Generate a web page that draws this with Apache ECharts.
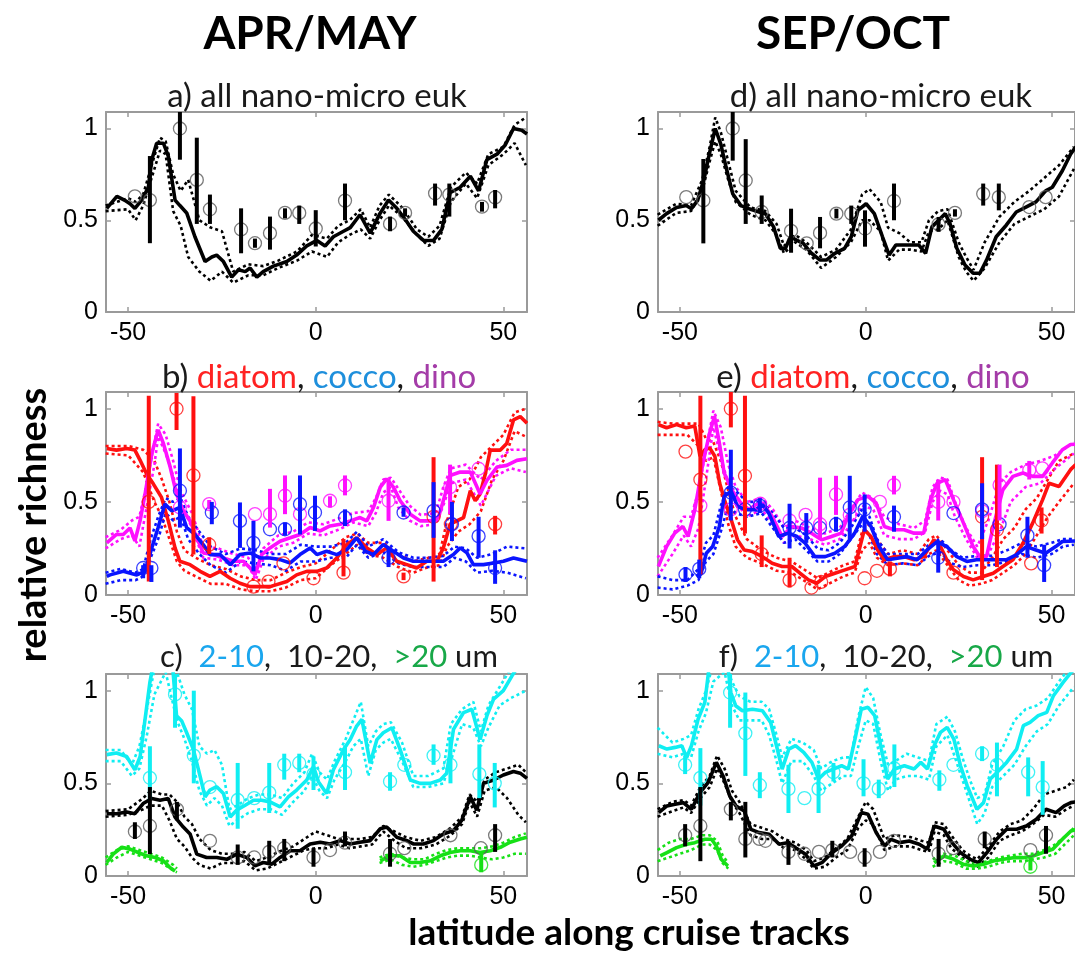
<!DOCTYPE html>
<html><head><meta charset="utf-8">
<script src="https://cdn.jsdelivr.net/npm/echarts@6/dist/echarts.min.js"></script>
<style>html,body{margin:0;padding:0;background:#fff}#c{width:1075px;height:957px}</style>
</head><body><div id="c"></div>
<script>
// ---------- axis ticks ----------
const xTicks = [-50, 0, 50];
const yTicks = [0, 0.5, 1];

// ---------- panel a (APR/MAY, all nano-micro euk) ----------
const aMid = [[-55.7,0.565],[-53,0.63],[-51,0.61],[-49.5,0.59],[-48.2,0.565],[-46.4,0.61],[-44.6,0.68],[-43.7,0.83],[-42.4,0.92],[-40.6,0.92],[-39.3,0.85],[-37.5,0.61],[-36.2,0.58],[-34.4,0.54],[-32.2,0.41],[-29.5,0.275],[-27.7,0.30],[-26.4,0.31],[-24.6,0.275],[-22.4,0.19],[-20.6,0.23],[-18.8,0.22],[-17.5,0.24],[-15.7,0.19],[-14,0.22],[-11.3,0.25],[-7.7,0.275],[-5.1,0.31],[-2.4,0.36],[0.3,0.39],[2.5,0.36],[4.7,0.41],[7.4,0.44],[9.2,0.46],[11.8,0.53],[14.5,0.43],[17.2,0.54],[19.4,0.61],[21.6,0.565],[24,0.50],[26,0.44],[28.7,0.39],[31.4,0.39],[33.6,0.45],[35.8,0.65],[38.5,0.68],[41.2,0.74],[43.4,0.66],[45.6,0.83],[48.3,0.86],[50.5,0.91],[52.7,1.0],[54.9,0.99],[56.3,0.97]];
const aEnv = [[-56,0.58,0.55],[-50,0.62,0.56],[-48,0.60,0.50],[-46,0.64,0.58],[-43,0.85,0.78],[-41.5,0.95,0.88],[-40,0.93,0.86],[-38,0.75,0.55],[-36,0.66,0.47],[-34,0.72,0.30],[-31,0.50,0.22],[-28,0.46,0.17],[-25,0.44,0.22],[-22,0.22,0.16],[-18,0.26,0.20],[-14,0.25,0.20],[-10,0.28,0.24],[-5,0.33,0.28],[-1,0.42,0.33],[3,0.40,0.30],[6,0.47,0.38],[9,0.50,0.42],[12,0.56,0.45],[14.5,0.46,0.40],[17,0.58,0.50],[19.5,0.64,0.58],[23,0.57,0.52],[27,0.45,0.42],[30,0.41,0.36],[33,0.47,0.40],[36,0.68,0.60],[40,0.76,0.70],[43,0.70,0.62],[46,0.86,0.80],[50,0.90,0.86],[53,1.02,0.92],[56,1.06,0.80]];
const aPts = [[-48.2,0.63,null,null],[-44.2,0.61,0.375,0.85],[-36.2,1.0,0.83,1.09],[-31.7,0.72,0.48,0.95],[-28.2,0.56,0.48,0.64],[-19.9,0.45,0.32,0.565],[-16.2,0.375,0.35,0.40],[-12.2,0.43,0.34,0.52],[-8.2,0.54,0.51,0.565],[-4.4,0.54,0.48,0.58],[0,0.455,0.357,0.555],[7.8,0.607,0.50,0.70],[19.8,0.48,0.44,0.52],[23.8,0.54,0.52,0.565],[31.8,0.647,0.58,0.70],[35.6,0.64,0.52,0.70],[44.3,0.574,0.547,0.60],[47.8,0.625,0.565,0.665]];

// ---------- panel d (SEP/OCT, all nano-micro euk) ----------
const dMid = [[-55.8,0.50],[-53.6,0.536],[-50.9,0.57],[-48.3,0.58],[-46.9,0.563],[-45.2,0.61],[-43.4,0.735],[-42.1,0.86],[-40.5,1.0],[-39,0.915],[-37.6,0.79],[-35.8,0.645],[-33.6,0.58],[-31.4,0.563],[-28.7,0.545],[-27,0.536],[-24.8,0.464],[-23,0.347],[-21.6,0.347],[-20.3,0.41],[-18.5,0.39],[-16.8,0.374],[-14.6,0.32],[-12.3,0.283],[-10.6,0.283],[-8.3,0.32],[-5.7,0.347],[-3.9,0.41],[-2.1,0.554],[0.1,0.59],[2.3,0.536],[4.5,0.41],[6.3,0.31],[8.1,0.365],[11.2,0.365],[14.3,0.365],[16.1,0.32],[17.8,0.464],[19.6,0.50],[21.4,0.536],[22.7,0.48],[24.5,0.347],[26.7,0.256],[28.9,0.211],[30.7,0.211],[32.5,0.283],[35.1,0.41],[37.8,0.473],[40.5,0.545],[43.1,0.572],[45.8,0.60],[48.4,0.66],[50.2,0.68],[52.9,0.77],[55.1,0.86],[56.5,0.9]];
const dEnv = [[-56,0.53,0.47],[-51,0.59,0.54],[-47,0.58,0.55],[-44,0.72,0.66],[-42,0.9,0.82],[-40.5,1.06,0.93],[-39,0.98,0.86],[-37,0.82,0.72],[-35,0.66,0.6],[-31,0.57,0.53],[-27,0.55,0.5],[-24,0.48,0.42],[-22,0.36,0.32],[-19,0.42,0.38],[-16,0.38,0.34],[-12,0.3,0.24],[-8,0.34,0.3],[-4,0.45,0.38],[-1,0.64,0.5],[1,0.67,0.5],[4,0.6,0.44],[6,0.46,0.28],[9,0.43,0.34],[12,0.38,0.34],[15,0.38,0.33],[17,0.5,0.44],[19.5,0.55,0.45],[22,0.56,0.5],[25,0.38,0.3],[27,0.3,0.22],[29,0.23,0.17],[32,0.38,0.24],[36,0.52,0.38],[40,0.6,0.48],[44,0.66,0.52],[48,0.73,0.56],[52,0.8,0.63],[56,0.9,0.78]];
const dPts = [[-48.3,0.626,null,null],[-43.7,0.608,0.374,0.834],[-35.8,1.0,0.825,1.09],[-32.3,0.717,0.48,0.942],[-28,0.545,0.48,0.635],[-20.1,0.442,0.323,0.563],[-15.9,0.374,null,null],[-12.3,0.431,0.347,0.518],[-7.9,0.536,0.51,0.563],[-3.9,0.536,0.48,0.58],[-0.2,0.455,0.356,0.554],[7.6,0.605,0.50,0.70],[19.6,0.478,0.437,0.518],[24,0.54,0.52,0.56],[31.6,0.644,0.58,0.70],[35.8,0.626,0.554,0.70],[44,0.572,null,null],[48.4,0.626,null,null]];

// ---------- panel b (APR/MAY diatom, cocco, dino) ----------
const bRed = [[-55.7,0.787],[-53.1,0.778],[-50.4,0.787],[-48.2,0.778],[-46.8,0.723],[-45.1,0.651],[-43.3,0.597],[-41.1,0.524],[-39.3,0.398],[-37.5,0.253],[-36.2,0.181],[-33.5,0.163],[-30.8,0.127],[-28.2,0.10],[-25.5,0.127],[-22.8,0.09],[-20.2,0.063],[-17.5,0.045],[-14.8,0.045],[-12.2,0.045],[-7.7,0.072],[-5.1,0.108],[-2.4,0.127],[0.3,0.127],[2.9,0.145],[5.6,0.199],[8.3,0.271],[10.9,0.307],[13.6,0.253],[16.3,0.217],[18.9,0.253],[21.6,0.181],[24.3,0.163],[26.9,0.145],[29.6,0.181],[32.3,0.181],[34,0.253],[35.8,0.38],[37.6,0.398],[39.4,0.416],[41.2,0.56],[42.5,0.506],[43.8,0.542],[45.2,0.651],[46.5,0.778],[49.2,0.778],[50.9,0.814],[52.7,0.94],[54.5,0.958],[56.3,0.922]];
const bRedEnv = [[-56,0.80,0.76],[-50,0.80,0.75],[-46,0.78,0.66],[-43,0.72,0.5],[-41,0.62,0.42],[-39,0.5,0.3],[-37,0.34,0.18],[-35,0.24,0.13],[-32,0.2,0.1],[-28,0.16,0.06],[-24,0.14,0.06],[-20,0.1,0.03],[-16,0.08,0.02],[-12,0.08,0.02],[-8,0.12,0.04],[-4,0.15,0.08],[0,0.17,0.09],[4,0.24,0.16],[8,0.31,0.22],[11,0.33,0.27],[14,0.28,0.22],[18,0.28,0.2],[22,0.22,0.15],[26,0.18,0.12],[30,0.2,0.15],[33,0.22,0.16],[35,0.4,0.26],[38,0.58,0.34],[41,0.62,0.38],[44,0.74,0.45],[47,0.8,0.62],[50,0.86,0.72],[53,0.98,0.88],[56,1.0,0.85]];
const bRedPts = [[-44.5,0.5,0.072,1.07],[-37.1,1.0,0.886,1.085],[-32.6,0.642,0.217,1.067],[-28.4,0.27,0.22,0.31],[-16.6,0.045,null,null],[-12.6,0.072,null,null],[-8.6,0.17,null,null],[-0.6,0.09,null,null],[7.4,0.12,0.1,0.3],[23.4,0.1,0.08,0.12],[31.4,0.42,0.072,0.74],[36,0.38,null,null],[47.8,0.38,0.325,0.425]];
const bMag = [[-55.7,0.28],[-53.1,0.325],[-51.3,0.325],[-49.5,0.36],[-48.2,0.29],[-46.8,0.40],[-45.5,0.54],[-43.7,0.76],[-42,0.886],[-40.6,0.814],[-38.8,0.687],[-37.1,0.542],[-35.3,0.452],[-33.5,0.398],[-31.7,0.307],[-30,0.226],[-27.3,0.217],[-24.6,0.199],[-22,0.181],[-19.3,0.181],[-17.5,0.145],[-16.2,0.108],[-14.4,0.217],[-12.2,0.253],[-9.5,0.289],[-6.8,0.307],[-4.2,0.325],[-1.5,0.362],[1.2,0.344],[3.8,0.371],[6.5,0.38],[9.2,0.398],[11.8,0.416],[13.6,0.398],[15.4,0.47],[17.2,0.579],[18.9,0.624],[20.7,0.579],[22.5,0.506],[25.2,0.434],[27.8,0.398],[30.5,0.398],[32.7,0.416],[34.5,0.542],[35.8,0.642],[38.5,0.66],[41.2,0.66],[43.8,0.542],[45.6,0.615],[48.3,0.687],[50.9,0.696],[53.6,0.723],[56.3,0.732]];
const bMagEnv = [[-56,0.31,0.25],[-52,0.35,0.3],[-49,0.4,0.32],[-47,0.42,0.26],[-45,0.6,0.48],[-43,0.82,0.7],[-42,0.92,0.85],[-40,0.86,0.76],[-38,0.72,0.64],[-36,0.56,0.5],[-33,0.44,0.36],[-30,0.26,0.2],[-26,0.25,0.19],[-22,0.22,0.16],[-18,0.2,0.16],[-16,0.14,0.08],[-14,0.25,0.19],[-10,0.32,0.26],[-6,0.34,0.28],[-2,0.39,0.33],[2,0.38,0.32],[6,0.41,0.35],[10,0.44,0.39],[14,0.45,0.37],[16,0.52,0.44],[18,0.62,0.55],[20,0.63,0.58],[22,0.57,0.47],[25,0.48,0.4],[28,0.43,0.37],[32,0.44,0.38],[34,0.58,0.48],[36,0.68,0.6],[40,0.7,0.62],[44,0.62,0.48],[48,0.72,0.64],[52,0.78,0.68],[56,0.78,0.66]];
const bMagPts = [[-36.2,0.47,null,null],[-28.4,0.488,0.46,0.51],[-16.2,0.434,null,null],[-12.2,0.434,0.362,0.57],[-8.2,0.533,0.434,0.642],[-4.2,0.434,null,null],[3.8,0.506,0.47,0.53],[7.8,0.588,0.535,0.642],[19.4,0.506,0.398,0.624],[35.8,0.579,0.434,0.70],[43.4,0.678,null,null]];
const bBlue = [[-55.7,0.1],[-54.8,0.108],[-51.3,0.127],[-47.7,0.108],[-45.5,0.127],[-43.7,0.253],[-42,0.362],[-40.2,0.488],[-38.4,0.452],[-36.2,0.47],[-34.4,0.362],[-32.2,0.325],[-30,0.271],[-28.2,0.217],[-25.5,0.217],[-22.8,0.163],[-20.2,0.217],[-17.5,0.226],[-14.8,0.199],[-12.2,0.199],[-9.5,0.19],[-6.8,0.172],[-4.2,0.217],[-1.5,0.253],[0.3,0.217],[2.9,0.235],[5.6,0.217],[8.3,0.244],[10.9,0.307],[13.2,0.235],[15.4,0.217],[18,0.271],[20.7,0.235],[23.4,0.199],[26,0.181],[28.7,0.181],[31.4,0.181],[34,0.181],[36.7,0.217],[38.5,0.253],[40.3,0.226],[42,0.163],[44.7,0.163],[47.4,0.172],[50,0.181],[52.7,0.199],[56.3,0.181]];
const bBlueEnv = [[-56,0.12,0.06],[-52,0.14,0.08],[-48,0.12,0.08],[-46,0.14,0.1],[-44,0.3,0.2],[-42,0.42,0.3],[-40,0.52,0.44],[-38,0.5,0.4],[-36,0.52,0.42],[-34,0.42,0.3],[-31,0.34,0.22],[-28,0.26,0.16],[-24,0.22,0.12],[-20,0.25,0.18],[-16,0.24,0.17],[-12,0.22,0.16],[-8,0.22,0.13],[-4,0.27,0.18],[0,0.26,0.18],[4,0.26,0.2],[8,0.28,0.2],[11,0.34,0.27],[14,0.26,0.2],[18,0.3,0.23],[22,0.23,0.17],[26,0.2,0.15],[30,0.2,0.15],[34,0.21,0.15],[37,0.26,0.2],[40,0.25,0.18],[43,0.2,0.12],[47,0.22,0.13],[51,0.26,0.12],[56,0.25,0.09]];
const bBluePts = [[-46,0.145,0.09,0.16],[-43.8,0.145,0.07,0.16],[-36.2,0.56,0.362,0.787],[-27.7,0.443,0.38,0.5],[-20.2,0.398,0.253,0.497],[-16.6,0.28,0.127,0.398],[-12.2,0.353,null,null],[-8.2,0.353,0.32,0.39],[-4.2,0.488,0.325,0.642],[-0.2,0.443,0.344,0.533],[7.8,0.416,0.37,0.46],[19.4,0.2,0.15,0.25],[23.4,0.443,0.42,0.47],[31.4,0.452,0.307,0.606],[36.3,0.38,0.29,0.5],[43.4,0.316,0.2,0.42],[47.8,0.145,0.06,0.24]];

// ---------- panel e (SEP/OCT diatom, cocco, dino) ----------
const eRed = [[-55.8,0.915],[-53.6,0.898],[-50.9,0.915],[-48.3,0.898],[-46,0.907],[-44.6,0.745],[-43.3,0.78],[-42,0.79],[-40.6,0.745],[-39.3,0.60],[-38,0.51],[-36.2,0.404],[-34.5,0.296],[-32.7,0.242],[-30.5,0.233],[-27.8,0.206],[-25.2,0.17],[-22.5,0.153],[-19.9,0.153],[-17.7,0.117],[-15.4,0.081],[-13.2,0.063],[-10.9,0.099],[-8.3,0.117],[-5.6,0.135],[-2.9,0.153],[-0.4,0.35],[1.4,0.314],[3.2,0.242],[5,0.189],[7.6,0.206],[10.3,0.206],[13,0.189],[15.6,0.206],[18.3,0.296],[20.1,0.26],[21.8,0.189],[23.6,0.135],[26.3,0.099],[28.9,0.081],[31.6,0.099],[34.3,0.117],[36.9,0.153],[39.6,0.189],[42.3,0.278],[44.9,0.386],[47.6,0.512],[49.3,0.60],[52,0.583],[55.1,0.673],[56.5,0.7]];
const eRedEnv = [[-56,0.93,0.86],[-52,0.92,0.86],[-48,0.92,0.86],[-45,0.92,0.8],[-43,0.84,0.72],[-41,0.82,0.74],[-39,0.72,0.56],[-37,0.56,0.38],[-35,0.42,0.26],[-32,0.3,0.2],[-28,0.24,0.17],[-24,0.2,0.13],[-20,0.18,0.12],[-16,0.13,0.07],[-13,0.09,0.03],[-10,0.12,0.06],[-6,0.16,0.1],[-3,0.18,0.12],[-1,0.34,0.24],[1,0.38,0.28],[3,0.3,0.2],[6,0.22,0.16],[10,0.24,0.17],[14,0.22,0.16],[17,0.3,0.22],[19,0.32,0.24],[22,0.24,0.16],[25,0.16,0.08],[28,0.12,0.05],[31,0.12,0.06],[34,0.2,0.08],[37,0.3,0.12],[40,0.36,0.16],[43,0.46,0.22],[46,0.52,0.32],[49,0.62,0.42],[52,0.72,0.5],[56,0.76,0.6]];
const eRedPts = [[-48.5,0.77,null,null],[-44.5,0.62,0.11,1.07],[-36.3,1.0,0.9,1.09],[-32.5,0.64,0.33,1.07],[-28,0.22,0.15,0.32],[-20.5,0.08,0.04,0.2],[-14.6,0.04,null,null],[-12,0.07,null,null],[-0.3,0.09,null,null],[3,0.13,null,null],[6.5,0.14,0.1,0.18],[23.6,0.12,null,null],[31.3,0.42,0.08,0.74],[35.3,0.35,0.15,0.7],[44.5,0.17,null,null],[47.3,0.4,0.33,0.47]];
const eMag = [[-55.8,0.153],[-53.6,0.26],[-51.4,0.332],[-49.2,0.368],[-47.8,0.314],[-46,0.458],[-43.8,0.709],[-42,0.87],[-40.7,0.96],[-39.4,0.817],[-38.1,0.655],[-35.8,0.557],[-33.6,0.494],[-31.4,0.458],[-29.6,0.485],[-27.8,0.494],[-25.2,0.422],[-22.5,0.314],[-19.9,0.368],[-17.2,0.359],[-14.6,0.332],[-11.9,0.296],[-9.2,0.314],[-6.6,0.332],[-4.8,0.422],[-2.1,0.512],[0.6,0.53],[2.8,0.494],[5,0.368],[7.6,0.35],[10.3,0.35],[13,0.332],[15.6,0.332],[17.4,0.512],[19.2,0.60],[21.4,0.62],[23.6,0.512],[26.3,0.386],[28.9,0.26],[30.7,0.206],[32.5,0.206],[34.3,0.368],[36.9,0.566],[39.6,0.637],[42.3,0.655],[44.9,0.637],[47.6,0.637],[50.2,0.709],[52.9,0.78],[55.1,0.808],[56.5,0.81]];
const eMagEnv = [[-56,0.2,0.1],[-52,0.32,0.22],[-49,0.42,0.32],[-47,0.42,0.26],[-45,0.56,0.36],[-43,0.78,0.62],[-41,0.99,0.9],[-39,0.9,0.74],[-37,0.7,0.6],[-35,0.58,0.5],[-32,0.5,0.42],[-28,0.52,0.46],[-25,0.46,0.38],[-22,0.36,0.28],[-19,0.4,0.32],[-15,0.36,0.3],[-11,0.33,0.27],[-7,0.36,0.3],[-4,0.46,0.38],[-1,0.55,0.48],[2,0.52,0.46],[5,0.42,0.32],[9,0.38,0.3],[13,0.36,0.3],[16,0.4,0.34],[18,0.58,0.5],[20,0.63,0.56],[22,0.62,0.54],[24,0.5,0.42],[27,0.36,0.3],[30,0.26,0.2],[33,0.4,0.22],[36,0.6,0.34],[39,0.66,0.5],[43,0.7,0.58],[47,0.72,0.6],[51,0.75,0.68],[56,0.82,0.76]];
const eMagPts = [[-44.5,0.48,null,null],[-36.3,0.46,null,null],[-28.4,0.49,null,null],[-20.5,0.4,null,null],[-16.2,0.43,null,null],[-12.3,0.38,0.3,0.63],[-8,0.54,0.43,0.64],[-4.3,0.43,null,null],[3.8,0.5,null,null],[7.6,0.59,0.54,0.64],[19.5,0.5,0.4,0.62],[23.6,0.5,null,null],[31.3,0.45,null,null],[36,0.59,0.4,0.7],[44,0.67,0.62,0.72],[47.5,0.68,null,null]];
const eBlue = [[-45.6,0.099],[-44.3,0.117],[-42.9,0.224],[-41.2,0.26],[-39.4,0.368],[-38.1,0.53],[-36.2,0.557],[-34.5,0.476],[-32.3,0.458],[-29.6,0.458],[-27.8,0.485],[-26.1,0.44],[-23.4,0.314],[-20.8,0.332],[-18.5,0.314],[-16.3,0.278],[-13.7,0.206],[-10.9,0.206],[-8.3,0.224],[-5.7,0.26],[-3,0.332],[-0.8,0.422],[1.4,0.368],[3.6,0.26],[5.9,0.189],[8.5,0.197],[11.2,0.206],[13.8,0.189],[16.5,0.242],[19.2,0.287],[21.8,0.26],[24.5,0.206],[27.2,0.18],[29.8,0.189],[32.5,0.189],[35.1,0.189],[37.8,0.189],[40.5,0.215],[43.2,0.26],[45.8,0.242],[48.4,0.224],[51.1,0.26],[52.9,0.287],[56.5,0.29]];
const eBlueEnv = [[-56,0.1,0.04],[-52,0.08,0.03],[-48,0.08,0.05],[-45,0.14,0.08],[-43,0.28,0.18],[-41,0.32,0.22],[-39,0.48,0.34],[-37,0.58,0.48],[-35,0.56,0.44],[-32,0.5,0.42],[-28,0.5,0.44],[-25,0.44,0.36],[-22,0.36,0.28],[-19,0.36,0.3],[-16,0.32,0.24],[-13,0.25,0.18],[-10,0.24,0.18],[-7,0.28,0.22],[-4,0.36,0.3],[-1,0.46,0.38],[1,0.42,0.32],[3,0.3,0.22],[6,0.22,0.16],[10,0.22,0.17],[14,0.22,0.16],[17,0.27,0.21],[20,0.3,0.23],[23,0.24,0.17],[26,0.2,0.15],[30,0.21,0.16],[34,0.21,0.16],[38,0.24,0.18],[42,0.28,0.22],[46,0.26,0.2],[50,0.28,0.22],[53,0.3,0.26],[56,0.3,0.27]];
const eBluePts = [[-48.5,0.11,0.07,0.15],[-44.8,0.14,0.09,0.19],[-36.3,0.55,0.4,0.78],[-32.5,0.46,null,null],[-28.5,0.48,0.44,0.52],[-20.5,0.36,0.25,0.49],[-16,0.36,0.28,0.44],[-12.3,0.36,null,null],[-8,0.38,0.34,0.42],[-4.3,0.47,0.3,0.64],[-0.3,0.46,0.34,0.54],[7.6,0.42,0.34,0.48],[19.5,0.2,0.12,0.28],[23.6,0.44,null,null],[31.3,0.46,0.3,0.6],[36,0.38,null,null],[43.5,0.32,0.2,0.42],[48,0.16,0.07,0.27]];

// ---------- panel c (APR/MAY size classes) ----------
const cCyan = [[-55.7,0.655],[-53.1,0.664],[-50.4,0.645],[-48.2,0.573],[-46.8,0.645],[-45.5,0.845],[-44.2,1.045],[-42.8,1.2],[-39.7,1.25],[-38.4,1.2],[-37.1,0.864],[-35.7,0.836],[-34.4,0.773],[-32.6,0.682],[-30.8,0.536],[-29.5,0.427],[-28.2,0.464],[-26.4,0.482],[-24.6,0.445],[-22.8,0.318],[-21.1,0.355],[-18.8,0.382],[-16.6,0.409],[-14.4,0.409],[-12.2,0.40],[-9.5,0.373],[-7.3,0.427],[-5.1,0.464],[-2.4,0.518],[-0.6,0.591],[0.7,0.509],[2.9,0.445],[4.7,0.573],[7.4,0.682],[9.2,0.736],[10.9,0.809],[12.3,0.845],[14.5,0.609],[16.3,0.736],[18,0.773],[20.3,0.80],[22.5,0.682],[25.2,0.518],[27.8,0.50],[30.5,0.50],[33.2,0.518],[34.9,0.555],[36.7,0.791],[39.4,0.882],[41.6,0.90],[43.8,0.736],[45.6,0.864],[47.4,0.955],[50,1.0],[52.3,1.08],[53.6,1.12],[56.3,1.16]];
const cCyanEnv = [[-56,0.68,0.62],[-52,0.68,0.62],[-49,0.6,0.54],[-47,0.7,0.58],[-45,0.9,0.76],[-43,1.12,0.98],[-40,1.15,1.1],[-37,1.1,0.84],[-35,0.98,0.74],[-33,0.9,0.62],[-31,0.7,0.46],[-29,0.66,0.38],[-27,0.68,0.42],[-25,0.6,0.38],[-23,0.36,0.27],[-21,0.38,0.3],[-18,0.42,0.34],[-15,0.44,0.36],[-12,0.44,0.36],[-9,0.42,0.33],[-6,0.5,0.4],[-3,0.56,0.46],[-1,0.66,0.54],[1,0.56,0.46],[3,0.52,0.42],[5,0.62,0.52],[8,0.74,0.62],[10,0.84,0.7],[12,0.94,0.74],[14,0.7,0.54],[16,0.78,0.68],[18,0.82,0.72],[20,0.83,0.74],[23,0.72,0.62],[26,0.54,0.48],[30,0.54,0.48],[34,0.58,0.5],[36,0.82,0.62],[39,0.9,0.82],[42,0.94,0.8],[44,0.78,0.7],[46,0.92,0.8],[49,1.02,0.92],[52,1.12,0.96],[56,1.2,1.0]];
const cCyanPts = [[-44.2,0.53,0.41,0.7],[-37.5,0.98,0.8,1.09],[-32.5,0.65,0.5,1.0],[-28.2,0.48,null,null],[-20.8,0.41,0.255,0.61],[-16.4,0.42,null,null],[-12.4,0.45,0.34,0.61],[-8.4,0.6,0.52,0.66],[-4.4,0.61,0.56,0.66],[-0.6,0.55,0.464,0.645],[7.8,0.56,0.464,0.7],[19.8,0.51,0.46,0.56],[23.6,0.6,null,null],[31.4,0.65,0.6,0.71],[35.9,0.6,0.5,0.75],[43.6,0.55,0.42,0.71],[47.7,0.5,0.37,0.61]];
const cBlack = [[-55.7,0.336],[-53.1,0.336],[-50.4,0.345],[-48.2,0.336],[-46,0.391],[-43.7,0.418],[-41.5,0.409],[-39.3,0.418],[-37.5,0.318],[-35.3,0.264],[-33.5,0.227],[-31.7,0.118],[-29.1,0.10],[-26.4,0.10],[-23.7,0.09],[-21.1,0.118],[-18.4,0.10],[-16.2,0.055],[-14,0.073],[-11.7,0.064],[-9.5,0.10],[-6.8,0.136],[-4.2,0.136],[-1.5,0.173],[1.2,0.182],[3.8,0.173],[6.5,0.191],[9.2,0.173],[11.8,0.182],[14.5,0.191],[17.2,0.255],[18.9,0.264],[21.6,0.209],[24.3,0.191],[26,0.173],[28.7,0.173],[31.4,0.191],[34,0.227],[36.7,0.245],[38.9,0.30],[41.2,0.427],[42.9,0.355],[44.7,0.50],[47.4,0.518],[50,0.545],[52.7,0.564],[54.5,0.555],[56.3,0.527]];
const cBlackEnv = [[-56,0.35,0.32],[-50,0.36,0.33],[-46,0.42,0.36],[-44,0.46,0.38],[-41,0.44,0.38],[-39,0.44,0.3],[-37,0.4,0.2],[-35,0.32,0.16],[-33,0.28,0.1],[-31,0.2,0.06],[-28,0.14,0.04],[-25,0.12,0.07],[-22,0.12,0.07],[-19,0.13,0.08],[-16,0.08,0.03],[-13,0.1,0.04],[-10,0.13,0.07],[-6,0.16,0.11],[-3,0.2,0.14],[0,0.24,0.15],[3,0.22,0.15],[6,0.2,0.17],[9,0.2,0.15],[12,0.2,0.16],[15,0.21,0.17],[18,0.27,0.24],[21,0.24,0.19],[24,0.21,0.15],[28,0.19,0.15],[32,0.21,0.17],[36,0.26,0.22],[39,0.32,0.28],[41,0.44,0.4],[43,0.4,0.32],[45,0.52,0.46],[48,0.56,0.48],[51,0.58,0.42],[54,0.6,0.33],[56,0.56,0.29]];
const cBlackPts = [[-48.2,0.24,0.2,0.29],[-44.2,0.27,0.118,0.48],[-37,0.36,0.3,0.4],[-28.2,0.19,null,null],[-20.8,0.1,0.06,0.17],[-16.4,0.1,null,null],[-12.4,0.13,0.07,0.19],[-8.4,0.15,0.08,0.2],[-0.6,0.1,0.05,0.15],[3.8,0.14,null,null],[7.8,0.18,0.16,0.24],[19.8,0.12,0.05,0.2],[23.6,0.15,null,null],[35.9,0.22,null,null],[44,0.15,null,null],[47.8,0.22,0.13,0.28]];
const cGreen = [[-55.7,0.073],[-54,0.118],[-51.7,0.155],[-49.5,0.145],[-47.3,0.127],[-45.1,0.109],[-42.8,0.10],[-40.6,0.082],[-38.8,0.045],[-37.5,0.027],[-10,null],[17.2,0.082],[19.8,0.109],[22.5,0.109],[25.2,0.073],[27.8,0.073],[30.5,0.082],[33.2,0.109],[35.8,0.127],[38.5,0.136],[41.2,0.136],[43.8,0.127],[46.5,0.136],[49.2,0.155],[51.8,0.182],[54.5,0.20],[56.3,0.209]];
const cGreenEnv = [[-56,0.1,0.06],[-53,0.14,0.1],[-50,0.16,0.13],[-47,0.14,0.11],[-44,0.12,0.09],[-41,0.1,0.07],[-38,0.06,0.03],[-37,0.04,0.02],[-10,null,null],[17,0.1,0.07],[20,0.12,0.09],[23,0.1,0.06],[26,0.09,0.05],[29,0.09,0.06],[32,0.12,0.08],[35,0.14,0.1],[38,0.15,0.11],[41,0.15,0.11],[44,0.15,0.1],[47,0.16,0.09],[50,0.18,0.1],[53,0.21,0.12],[56,0.23,0.12]];
const cGreenPts = [[44.1,0.06,0.02,0.13]];

// ---------- panel f (SEP/OCT size classes) ----------
const fCyan = [[-55.7,0.703],[-53.5,0.685],[-51.3,0.694],[-49.5,0.703],[-48.2,0.64],[-46.9,0.703],[-45.1,0.847],[-43.3,0.937],[-42,1.15],[-39.3,1.3],[-37.5,1.2],[-36.3,0.99],[-35,0.919],[-33.2,0.892],[-30.5,0.90],[-27.8,0.892],[-25.6,0.829],[-23.8,0.685],[-22.5,0.577],[-20.7,0.685],[-18.9,0.703],[-16.7,0.667],[-14.5,0.613],[-12.7,0.523],[-10.9,0.559],[-8.7,0.577],[-6.5,0.595],[-4.7,0.577],[-2.9,0.739],[-1.2,0.90],[0.6,0.91],[2.4,0.865],[4.2,0.685],[5.9,0.523],[7.7,0.577],[10.4,0.595],[13,0.577],[14.8,0.613],[16.6,0.577],[18.4,0.703],[20.1,0.775],[21.9,0.802],[23.7,0.739],[25.5,0.595],[27.3,0.486],[29.9,0.36],[31.7,0.396],[33.5,0.523],[35.3,0.559],[37.9,0.613],[40.6,0.685],[42.4,0.811],[44.2,0.829],[46.4,0.865],[48.7,0.883],[50.5,0.973],[53.1,1.045],[55.3,1.1],[56.5,1.12]];
const fCyanEnv = [[-56,0.8,0.66],[-52,0.72,0.64],[-49,0.74,0.66],[-47,0.76,0.64],[-45,0.9,0.78],[-43,1.0,0.88],[-41,1.15,1.05],[-38,1.15,1.1],[-36,1.05,0.92],[-34,0.97,0.84],[-31,0.94,0.84],[-28,0.94,0.84],[-26,0.9,0.76],[-24,0.76,0.62],[-22.5,0.64,0.5],[-20,0.74,0.62],[-17,0.72,0.62],[-14,0.68,0.54],[-12,0.58,0.46],[-9,0.62,0.5],[-6,0.64,0.54],[-4,0.64,0.54],[-2,0.86,0.7],[0,1.02,0.84],[2,0.96,0.82],[4,0.76,0.62],[6,0.6,0.46],[8,0.62,0.52],[11,0.66,0.54],[14,0.64,0.54],[17,0.62,0.52],[19,0.82,0.7],[22,0.86,0.76],[24,0.78,0.64],[26,0.64,0.52],[28,0.52,0.4],[30,0.42,0.28],[32,0.44,0.34],[34,0.6,0.48],[37,0.7,0.54],[40,0.84,0.6],[43,0.9,0.7],[46,0.92,0.78],[49,0.96,0.82],[52,1.05,0.92],[56,1.15,1.02]];
const fCyanPts = [[-48.6,0.6,0.55,0.65],[-44.5,0.53,0.38,0.69],[-36.5,0.99,0.8,1.09],[-32.4,0.77,0.54,0.99],[-28.5,0.49,0.42,0.56],[-20.8,0.47,0.34,0.6],[-16.5,0.42,null,null],[-12.7,0.47,0.34,0.6],[-8.7,0.56,0.51,0.61],[-0.6,0.5,0.43,0.63],[3.5,0.47,0.42,0.52],[7.7,0.58,0.48,0.71],[19.8,0.52,0.46,0.57],[23.6,0.6,null,null],[31.3,0.66,0.62,0.7],[35.3,0.6,0.43,0.72],[43.7,0.56,0.43,0.64],[47.6,0.48,0.33,0.62]];
const fBlack = [[-55.7,0.342],[-53.5,0.378],[-51.3,0.387],[-49.1,0.396],[-46.9,0.36],[-44.6,0.45],[-42.4,0.505],[-40.2,0.613],[-38.4,0.54],[-36.6,0.432],[-34.9,0.378],[-32.7,0.351],[-30.9,0.252],[-28.7,0.234],[-26,0.225],[-23.3,0.171],[-21.1,0.18],[-18.9,0.153],[-16.2,0.117],[-14,0.054],[-11.8,0.072],[-9.1,0.126],[-6.5,0.162],[-3.8,0.216],[-1.2,0.342],[0.6,0.333],[2.8,0.234],[5.1,0.162],[6.8,0.198],[9.1,0.18],[11.7,0.189],[14.4,0.171],[16.6,0.144],[18.4,0.27],[21,0.252],[23.2,0.18],[25.5,0.126],[28.1,0.09],[30.3,0.072],[32.6,0.126],[35.2,0.198],[37.9,0.252],[40.6,0.252],[43.2,0.27],[45.9,0.306],[48.5,0.36],[51.2,0.342],[53.4,0.378],[55.2,0.396],[56.5,0.4]];
const fBlackEnv = [[-56,0.36,0.32],[-52,0.4,0.35],[-49,0.41,0.37],[-47,0.38,0.34],[-44.5,0.48,0.42],[-42,0.54,0.48],[-40,0.65,0.58],[-38,0.58,0.5],[-36,0.46,0.4],[-34,0.4,0.34],[-31,0.28,0.22],[-28,0.26,0.2],[-25,0.24,0.2],[-22,0.2,0.15],[-19,0.18,0.14],[-16,0.14,0.09],[-14,0.08,0.04],[-11,0.1,0.05],[-8,0.15,0.1],[-5,0.2,0.14],[-2,0.32,0.26],[0,0.4,0.3],[2,0.36,0.28],[5,0.2,0.14],[8,0.22,0.16],[12,0.21,0.16],[15,0.19,0.14],[17,0.18,0.13],[18.5,0.29,0.24],[21,0.28,0.22],[23,0.22,0.15],[26,0.14,0.1],[28,0.11,0.07],[30,0.09,0.05],[33,0.16,0.1],[36,0.24,0.19],[39,0.28,0.22],[42,0.3,0.24],[45,0.36,0.28],[48,0.44,0.33],[51,0.46,0.32],[54,0.48,0.36],[56,0.52,0.38]];
const fBlackPts = [[-48.6,0.22,0.16,0.28],[-44.5,0.27,0.08,0.48],[-36.3,0.36,0.3,0.4],[-32.4,0.2,0.1,0.4],[-28.6,0.2,null,null],[-27,0.19,null,null],[-20.8,0.13,0.06,0.19],[-16.5,0.12,null,null],[-12.6,0.13,null,null],[-9,0.14,0.1,0.19],[-4.2,0.13,null,null],[-0.3,0.1,0.05,0.15],[3.8,0.13,null,null],[7.6,0.19,null,null],[19.6,0.12,0.05,0.2],[23.5,0.15,null,null],[32,0.2,0.15,0.24],[44.3,0.14,null,null],[48.5,0.22,0.12,0.27]];
const fGreen = [[-55.3,0.108],[-53.5,0.126],[-50.9,0.153],[-48.2,0.171],[-46,0.18],[-43.3,0.198],[-41.5,0.198],[-40.2,0.162],[-38.9,0.09],[-37.1,0.054],[-10,null],[18.4,0.072],[21,0.108],[23.7,0.09],[26.3,0.063],[29,0.054],[31.7,0.063],[34.3,0.081],[37,0.09],[39.7,0.099],[42.3,0.099],[45,0.108],[47.6,0.126],[50.3,0.144],[52.9,0.198],[55.2,0.243],[56.5,0.25]];
const fGreenEnv = [[-56,0.14,0.08],[-53,0.18,0.1],[-50,0.2,0.12],[-47,0.2,0.14],[-44,0.22,0.17],[-42,0.22,0.17],[-40,0.19,0.14],[-38.5,0.11,0.07],[-37,0.07,0.04],[-10,null,null],[18,0.09,0.05],[21,0.12,0.08],[24,0.11,0.07],[27,0.08,0.04],[30,0.07,0.04],[33,0.08,0.05],[36,0.1,0.07],[39,0.11,0.08],[42,0.12,0.08],[45,0.12,0.09],[48,0.14,0.1],[51,0.17,0.12],[54,0.22,0.18],[56,0.26,0.22]];
const fGreenPts = [[44.3,0.05,0.03,0.1]];

// ---------- layout / style ----------
const XMIN = -55.9, XMAX = 56.3, YMAX = 1.09;
const COL_LEFT = [106, 658], COL_W = [421, 421];
const ROW_TOP = [112, 392, 674], ROW_H = [200, 203, 202];
const FRAME = '#9a9a9a';
const C = {k:'#000000', kc:'#5a5a5a', r:'#ff1010', b:'#0a14ff', m:'#ff10ff', cy:'#10eef2', g:'#16e016'};

const panels = [
  {col:0,row:0,groups:[{c:C.k,pc:C.kc,mid:aMid,env:aEnv,pts:aPts}]},
  {col:0,row:1,groups:[{c:C.r,pc:C.r,mid:bRed,env:bRedEnv,pts:bRedPts},{c:C.m,pc:C.m,mid:bMag,env:bMagEnv,pts:bMagPts},{c:C.b,pc:C.b,mid:bBlue,env:bBlueEnv,pts:bBluePts}]},
  {col:0,row:2,groups:[{c:C.cy,pc:C.cy,mid:cCyan,env:cCyanEnv,pts:cCyanPts},{c:C.k,pc:C.kc,mid:cBlack,env:cBlackEnv,pts:cBlackPts},{c:C.g,pc:C.g,mid:cGreen,env:cGreenEnv,pts:cGreenPts}]},
  {col:1,row:0,groups:[{c:C.k,pc:C.kc,mid:dMid,env:dEnv,pts:dPts}]},
  {col:1,row:1,groups:[{c:C.r,pc:C.r,mid:eRed,env:eRedEnv,pts:eRedPts},{c:C.m,pc:C.m,mid:eMag,env:eMagEnv,pts:eMagPts},{c:C.b,pc:C.b,mid:eBlue,env:eBlueEnv,pts:eBluePts}]},
  {col:1,row:2,groups:[{c:C.cy,pc:C.cy,mid:fCyan,env:fCyanEnv,pts:fCyanPts},{c:C.k,pc:C.kc,mid:fBlack,env:fBlackEnv,pts:fBlackPts},{c:C.g,pc:C.g,mid:fGreen,env:fGreenEnv,pts:fGreenPts}]}
];

const nz = v => (v == null ? '-' : v);
const grids = [], xAxes = [], yAxes = [], series = [];
const tickFont = {fontFamily:'Arial', fontSize:25, color:'#000'};

panels.forEach((P, i) => {
  grids.push({left:COL_LEFT[P.col], top:ROW_TOP[P.row], width:COL_W[P.col], height:ROW_H[P.row], containLabel:false});
  const axLine = {show:true, onZero:false, lineStyle:{color:FRAME, width:2}};
  xAxes.push({gridIndex:i, type:'value', position:'bottom', min:XMIN, max:XMAX,
    axisLine:axLine, splitLine:{show:false},
    axisTick:{show:true, inside:true, length:5, customValues:xTicks, lineStyle:{color:FRAME, width:1.5}},
    axisLabel:Object.assign({show:true, margin:9, customValues:xTicks, formatter:v=>String(v)}, tickFont)});
  xAxes.push({gridIndex:i, type:'value', position:'top', min:XMIN, max:XMAX,
    axisLine:axLine, splitLine:{show:false},
    axisTick:{show:true, inside:true, length:5, customValues:xTicks, lineStyle:{color:FRAME, width:1.5}},
    axisLabel:{show:false}});
  yAxes.push({gridIndex:i, type:'value', position:'left', min:0, max:YMAX,
    axisLine:axLine, splitLine:{show:false},
    axisTick:{show:true, inside:true, length:5, customValues:yTicks, lineStyle:{color:FRAME, width:1.5}},
    axisLabel:Object.assign({show:true, margin:8, customValues:yTicks, formatter:v=>String(v)}, tickFont)});
  yAxes.push({gridIndex:i, type:'value', position:'right', min:0, max:YMAX,
    axisLine:axLine, splitLine:{show:false},
    axisTick:{show:true, inside:true, length:5, customValues:yTicks, lineStyle:{color:FRAME, width:1.5}},
    axisLabel:{show:false}});
  const xi = 2*i, yi = 2*i;
  P.groups.forEach((g, gi) => {
    const base = {xAxisIndex:xi, yAxisIndex:yi, animation:false, silent:true};
    ['up','lo'].forEach((k, j) => {
      series.push(Object.assign({}, base, {type:'line', symbol:'none', clip:true, connectNulls:false, z:2+gi,
        data:g.env.map(e => [e[0], nz(e[1+j])]),
        lineStyle:{color:g.c, width:2.6, type:[3,3]}}));
    });
    series.push(Object.assign({}, base, {type:'line', symbol:'none', clip:true, connectNulls:false, z:5+gi,
      data:g.mid.map(p => [p[0], nz(p[1])]), lineStyle:{color:g.c, width:3.6}}));
    series.push(Object.assign({}, base, {type:'scatter', z:9, symbol:'circle', symbolSize:13,
      data:g.pts.map(p => [p[0], p[1]]),
      itemStyle:{color:'rgba(0,0,0,0)', borderColor:g.pc, borderWidth:1.3}}));
    const col = g.c;
    series.push(Object.assign({}, base, {type:'custom', z:10,
      data:g.pts.filter(p => p[2] != null).map(p => [p[0], p[1], p[2], p[3]]),
      encode:{x:0, y:[1,2,3]},
      renderItem:function(params, api){
        const x = api.value(0);
        const a = api.coord([x, Math.max(api.value(2), 0)]);
        const b = api.coord([x, Math.min(api.value(3), YMAX)]);
        return {type:'line', shape:{x1:a[0], y1:a[1], x2:b[0], y2:b[1]}, style:{stroke:col, lineWidth:4}};
      }}));
  });
});

// ---------- text ----------
const SUBFONT = 'Lato';
const mk = (c, fs) => ({color:c, fontFamily:SUBFONT, fontSize:fs, fontWeight:'normal'});
const rich33 = {k:mk('#1a1a1a',33), r:mk('#ff2222',33), cb:mk('#1e8fdc',33), m:mk('#a43ca8',33)};
const rich31 = {k:mk('#1a1a1a',31), lb:mk('#1aa6ee',31), g:mk('#18a848',31)};
const subTitles = [
  {x:312, y:97,  t:'{k|a) all nano-micro euk}', rich:rich33, fs:33},
  {x:314, y:378, t:'{k|b) }{r|diatom}{k|, }{cb|cocco}{k|, }{m|dino}', rich:rich33, fs:33},
  {x:324, y:656, t:'{k|c)  }{lb|2-10}{k|,  10-20,  }{g|>20}{k| um}', rich:rich31, fs:31},
  {x:876, y:97,  t:'{k|d) all nano-micro euk}', rich:rich33, fs:33},
  {x:868, y:378, t:'{k|e) }{r|diatom}{k|, }{cb|cocco}{k|, }{m|dino}', rich:rich33, fs:33},
  {x:881, y:656, t:'{k|f)  }{lb|2-10}{k|,  10-20,  }{g|>20}{k| um}', rich:rich31, fs:31}
];
const titles = subTitles.map(s => ({
  text:s.t, left:s.x, top:s.y - Math.round(s.fs*0.66), textAlign:'center',
  textStyle:{rich:s.rich, fontSize:s.fs, fontFamily:SUBFONT, fontWeight:'normal'}
}));
const BOLD = 'Lato';
titles.push({text:'APR/MAY', left:305, top:6, textAlign:'center', textStyle:{fontFamily:BOLD, fontWeight:'bold', fontSize:46, color:'#000'}});
titles.push({text:'SEP/OCT', left:848, top:6, textAlign:'center', textStyle:{fontFamily:BOLD, fontWeight:'bold', fontSize:46, color:'#000'}});
titles.push({text:'latitude along cruise tracks', left:624, top:910, textAlign:'center', textStyle:{fontFamily:BOLD, fontWeight:'bold', fontSize:37, color:'#000'}});

const chart = echarts.init(document.getElementById('c'), null, {renderer:'canvas'});
chart.setOption({
  backgroundColor:'#fff',
  animation:false,
  title:titles,
  grid:grids, xAxis:xAxes, yAxis:yAxes, series:series,
  graphic:[{type:'text', x:34, y:525, rotation:Math.PI/2,
    style:{text:'relative richness', fontFamily:BOLD, fontWeight:'bold', fontSize:38, fill:'#000', align:'center', verticalAlign:'middle', textAlign:'center', textVerticalAlign:'middle'}}]
});
</script>
</body></html>
